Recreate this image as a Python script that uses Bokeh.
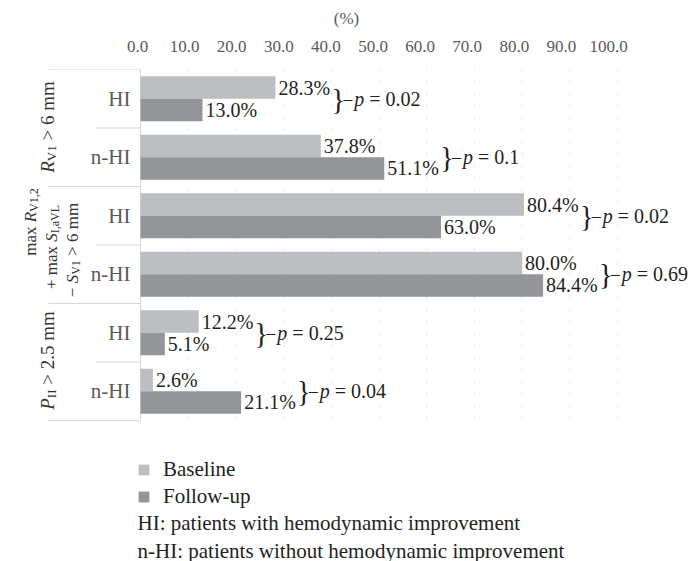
import math
from bokeh.plotting import figure
from bokeh.models import (Range1d, LinearAxis, FixedTicker, PrintfTickFormatter,
                          ColumnDataSource, Legend, LegendItem)
from bokeh.core.properties import value
from bokeh.transform import dodge
from bokeh.embed import file_html
from bokeh.resources import INLINE

# ---------------- data ----------------
subgroups = ["HI", "n-HI", "HI", "n-HI", "HI", "n-HI"]
baseline = [28.3, 37.8, 80.4, 80.0, 12.2, 2.6]
followup = [13.0, 51.1, 63.0, 84.4, 5.1, 21.1]
p_values = ["0.02", "0.1", "0.02", "0.69", "0.25", "0.04"]
x_ticks = [0, 10, 20, 30, 40, 50, 60, 70, 80, 90, 100]
axis_title = "(%)"
series_names = ["Baseline", "Follow-up"]
notes = ["HI: patients with hemodynamic improvement",
         "n-HI: patients without hemodynamic improvement"]
# group labels (rotated): each group = list of lines, each line = list of (text, kind)
group_labels = [
    [[("R", "it"), ("V1", "sub"), (" > 6 mm", "main")]],
    [[("max ", "main"), ("R", "it"), ("V1,2", "sub")],
     [("+ max ", "main"), ("S", "it"), ("I,aVL", "sub")],
     [("\u2212 ", "main"), ("S", "it"), ("V1", "sub"), (" > 6 mm", "main")]],
    [[("P", "it"), ("II", "sub"), (" > 2.5 mm", "main")]],
]

# ---------------- style / layout ----------------
FONT = "Liberation Serif"
C_BASE = "#BDBEC1"
C_FOLLOW = "#939598"
C_TEXT = "#231F20"
C_GREY_TEXT = "#595959"
C_GRID = "#BFBFBF"
C_TABLE = "#D6D6D6"

W, H = 692, 561
TOP = 69            # frame top (px)
ROW_PX = 58.5       # px per category row
PPU = 4.77          # px per percent
X0_PX = 140         # px of x = 0
TICK_PPU = 4.71
TICK_X0_PX = 137
BAR_H = 0.385
BAR_OFF = 0.192
VAL_FS = 20
P_FS = 20
NOTE_FS = 21

W_REG = {' ': 0.25, '>': 0.564, '+': 0.564, '\u2212': 0.564, '.': 0.25, ',': 0.25,
         '%': 0.833, 'm': 0.778, 'a': 0.444, 'x': 0.5, 'V': 0.722, 'I': 0.333,
         'L': 0.611, 'R': 0.667, 'S': 0.556, 'P': 0.556, '=': 0.564, 'p': 0.5}
W_IT = {'R': 0.611, 'S': 0.5, 'P': 0.611, 'p': 0.5}


def text_w(s, size, italic=False):
    tot = 0.0
    for c in s:
        if italic and c in W_IT:
            tot += W_IT[c]
        else:
            tot += W_REG.get(c, 0.5)
    return tot * size


n_rows = len(subgroups)
p = figure(width=W, height=H,
           x_range=Range1d(-X0_PX / PPU, (W - X0_PX) / PPU),
           y_range=Range1d((H - TOP) / ROW_PX, 0),
           x_axis_location=None, y_axis_location=None,
           toolbar_location=None, output_backend="svg",
           min_border_left=0, min_border_right=0,
           min_border_top=TOP, min_border_bottom=0)
p.outline_line_color = None
p.background_fill_color = "white"
p.border_fill_color = "white"
p.grid.visible = False

# top axis with tick labels
p.extra_x_ranges = {"ticks": Range1d(-TICK_X0_PX / TICK_PPU, (W - TICK_X0_PX) / TICK_PPU)}
ax = LinearAxis(x_range_name="ticks", ticker=FixedTicker(ticks=x_ticks),
                formatter=PrintfTickFormatter(format="%.1f"),
                axis_label=axis_title, bounds=(0, 105))
ax.axis_line_color = None
ax.major_tick_line_color = None
ax.minor_tick_line_color = None
ax.major_label_text_font = FONT
ax.major_label_text_font_size = "17px"
ax.major_label_text_color = C_GREY_TEXT
ax.major_label_standoff = 12
ax.axis_label_text_font = FONT
ax.axis_label_text_font_size = "17px"
ax.axis_label_text_font_style = "normal"
ax.axis_label_text_color = C_GREY_TEXT
ax.axis_label_standoff = 10
p.add_layout(ax, "above")

# dotted vertical grid (within the table rows)
p.segment(x0=x_ticks[1:], x1=x_ticks[1:], y0=0, y1=n_rows,
          line_color=C_GRID, line_width=1, line_dash="1 11")

# table lines on the left
outer_x = -92 / PPU
inner_x = -45 / PPU
grp_bounds = list(range(0, n_rows + 1, 2))
sub_bounds = list(range(1, n_rows, 2))
p.segment(x0=[outer_x] * len(grp_bounds), x1=[0] * len(grp_bounds), y0=grp_bounds, y1=grp_bounds,
          line_color=C_TABLE, line_width=1)
p.segment(x0=[inner_x] * len(sub_bounds), x1=[0] * len(sub_bounds), y0=sub_bounds, y1=sub_bounds,
          line_color=C_TABLE, line_width=1)
p.segment(x0=[0], x1=[0], y0=[0], y1=[n_rows], line_color=C_TABLE, line_width=1)

# bars
row_y = [r + 0.5 for r in range(n_rows)]
base_lbl = [f"{v:.1f}%" for v in baseline]
follow_lbl = [f"{v:.1f}%" for v in followup]
src = ColumnDataSource(dict(y=row_y, sub=subgroups, base=baseline, follow=followup,
                            base_lbl=base_lbl, follow_lbl=follow_lbl))
p.hbar(y=dodge("y", -BAR_OFF, range=p.y_range), left=0, right="base", height=BAR_H,
       source=src, fill_color=C_BASE, line_color=None)
p.hbar(y=dodge("y", BAR_OFF, range=p.y_range), left=0, right="follow", height=BAR_H,
       source=src, fill_color=C_FOLLOW, line_color=None)

txt_common = dict(text_font=value(FONT), text_baseline="middle")
p.text(x="base", y=dodge("y", -BAR_OFF, range=p.y_range), text="base_lbl", source=src,
       x_offset=3, text_align="left", text_font_size=f"{VAL_FS}px", text_color=C_TEXT, **txt_common)
p.text(x="follow", y=dodge("y", BAR_OFF, range=p.y_range), text="follow_lbl", source=src,
       x_offset=3, text_align="left", text_font_size=f"{VAL_FS}px", text_color=C_TEXT, **txt_common)

# HI / n-HI labels
p.text(x=0, y="y", text="sub", source=src, x_offset=-10, text_align="right",
       text_font_size="21px", text_color=C_GREY_TEXT, **txt_common)

# braces and p-values
xm, brace_off = [], []
for b, f, bl, fl in zip(baseline, followup, base_lbl, follow_lbl):
    m = max(b, f)
    end_b = (b - m) * PPU + 3 + text_w(bl, VAL_FS)
    end_f = (f - m) * PPU + 3 + text_w(fl, VAL_FS)
    xm.append(m)
    brace_off.append(max(end_b, end_f) + 1)
psrc = ColumnDataSource(dict(
    x=xm, y=row_y,
    brace=["}"] * n_rows, dash=["\u2013"] * n_rows, pp=["p"] * n_rows,
    eq=[f"= {v}" for v in p_values],
    brace_off=brace_off,
    dash_off=[o + 12 for o in brace_off],
    p_off=[o + 23 for o in brace_off],
    eq_off=[o + 23 + text_w("p ", P_FS, True) for o in brace_off],
))
p.text(x="x", y="y", text="brace", x_offset="brace_off", source=psrc, text_align="left",
       text_font_size="29px", text_color=C_TEXT, **txt_common)
p.text(x="x", y="y", text="dash", x_offset="dash_off", source=psrc, text_align="left",
       text_font_size="18px", text_color=C_TEXT, **txt_common)
p.text(x="x", y="y", text="pp", x_offset="p_off", source=psrc, text_align="left",
       text_font_size=f"{P_FS}px", text_font_style="italic", text_color=C_TEXT, **txt_common)
p.text(x="x", y="y", text="eq", x_offset="eq_off", source=psrc, text_align="left",
       text_font_size=f"{P_FS}px", text_color=C_TEXT, **txt_common)

# rotated group labels built from pieces (with subscripts)
# per line: (baseline x offset px from x=0, centre offset px from group centre, main size, sub size)
line_layout = [
    [(-93, -1, 19, 13)],
    [(-110, -23, 17, 12), (-89, 2, 17, 12), (-68, 5, 17, 12)],
    [(-93, -1.5, 19, 13)],
]
gx, gy, gt, gxo, gyo, gfs, gst = [], [], [], [], [], [], []
for gi, lines in enumerate(group_labels):
    gc = 2 * gi + 1
    for line, (bx, co, ms, ss) in zip(lines, line_layout[gi]):
        widths = []
        for t, kind in line:
            size = ss if kind == "sub" else ms
            widths.append(text_w(t, size, kind == "it"))
        total = sum(widths)
        start = co + total / 2.0
        cum = 0.0
        for (t, kind), w in zip(line, widths):
            size = ss if kind == "sub" else ms
            lead = len(t) - len(t.lstrip(" "))
            adv = text_w(" " * lead, size)
            gx.append(0)
            gy.append(gc)
            gt.append(t.strip(" "))
            gxo.append(bx + (0.22 * ms if kind == "sub" else 0))
            gyo.append(start - cum - adv)
            gfs.append(f"{size}px")
            gst.append("italic" if kind == "it" else "normal")
            cum += w
gsrc = ColumnDataSource(dict(x=gx, y=gy, t=gt, xo=gxo, yo=gyo, fs=gfs, st=gst))
p.text(x="x", y="y", text="t", x_offset="xo", y_offset="yo", source=gsrc,
       angle=math.pi / 2, text_align="left", text_baseline="alphabetic",
       text_font=value(FONT), text_font_size="fs", text_font_style="st", text_color="#333333")

# legend (square swatches)
r_b = p.scatter(x=[math.nan], y=[math.nan], marker="square", size=11, fill_color=C_BASE, line_color=None)
r_f = p.scatter(x=[math.nan], y=[math.nan], marker="square", size=11, fill_color=C_FOLLOW, line_color=None)
legend = Legend(items=[LegendItem(label=series_names[0], renderers=[r_b]),
                       LegendItem(label=series_names[1], renderers=[r_f])],
                location=(130, 51), orientation="vertical",
                glyph_width=27, glyph_height=27, label_standoff=6, spacing=0,
                padding=0, margin=0, border_line_color=None, background_fill_alpha=0,
                label_text_font=FONT, label_text_font_size=f"{NOTE_FS}px", label_text_color=C_TEXT,
                label_height=27)
p.add_layout(legend)

# notes
p.text(x=[0, 0], y=[n_rows, n_rows], text=notes, x_offset=-3, y_offset=[102, 130],
       text_align="left", text_font_size=f"{NOTE_FS}px", text_color=C_TEXT, **txt_common)

open("out.html", "w").write(file_html(p, INLINE))
